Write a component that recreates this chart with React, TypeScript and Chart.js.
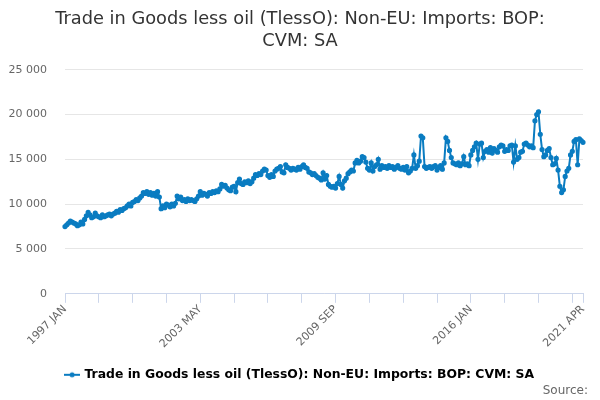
import { useEffect, useRef } from 'react'
import { Chart, registerables } from 'chart.js'

Chart.register(...registerables)

const MONTHS = ['JAN', 'FEB', 'MAR', 'APR', 'MAY', 'JUN', 'JUL', 'AUG', 'SEP', 'OCT', 'NOV', 'DEC']

// monthly values, one row per year (1997 .. 2021 APR)
const v1997 = [7500, 7700, 7900, 8100, 8000, 7900, 7800, 7600, 7700, 8000, 7800, 8300]
const v1998 = [8700, 9100, 8800, 8500, 8600, 9000, 8700, 8600, 8500, 8800, 8600, 8700]
const v1999 = [8800, 8900, 8700, 8900, 9000, 9200, 9100, 9400, 9300, 9500, 9600, 9800]
const v2000 = [10000, 9800, 10200, 10300, 10500, 10400, 10700, 10900, 11300, 11200, 11400, 11100]
const v2001 = [11300, 11000, 11200, 10900, 11400, 10800, 9500, 9800, 9600, 10000, 9900, 9700]
const v2002 = [10000, 9800, 10100, 10900, 10600, 10800, 10400, 10500, 10300, 10600, 10400, 10500]
const v2003 = [10400, 10300, 10600, 10900, 11400, 11000, 11200, 11100, 10900, 11300, 11200, 11400]
const v2004 = [11300, 11500, 11400, 11700, 12200, 12000, 12100, 11800, 11600, 11500, 11900, 12000]
const v2005 = [11400, 12400, 12800, 12300, 12200, 12500, 12400, 12600, 12300, 12500, 12900, 13300]
const v2006 = [13200, 13400, 13300, 13700, 13900, 13800, 13200, 13000, 13300, 13100, 13700, 13900]
const v2007 = [14000, 14200, 13600, 13500, 14400, 14100, 14000, 13800, 14000, 13900, 13800, 14100]
const v2008 = [13900, 14200, 14400, 14100, 14000, 13600, 13500, 13300, 13400, 13200, 13000, 12900]
const v2009 = [12700, 13500, 12800, 13200, 12200, 12000, 11900, 12000, 11800, 12300, 13100, 12200]
const v2010 = [11800, 12600, 12900, 13400, 13600, 13800, 13700, 14600, 14900, 14600, 14800, 15300]
const v2011 = [15200, 14700, 14000, 13800, 14600, 13700, 14200, 14400, 15000, 13900, 14300, 14100]
const v2012 = [14200, 14000, 14300, 14100, 14200, 13900, 14100, 14300, 14000, 13900, 14100, 13800]
const v2013 = [14200, 13500, 13700, 14000, 15500, 14000, 14300, 14800, 17600, 17400, 14200, 14000]
const v2014 = [14100, 14200, 14000, 14200, 14300, 13800, 14100, 14300, 13900, 14600, 17400, 17000]
const v2015 = [16000, 15200, 14600, 14500, 14400, 14600, 14300, 14500, 15300, 14400, 14500, 14300]
const v2016 = [15500, 16000, 16400, 16800, 15000, 16700, 16800, 15200, 15900, 16100, 15800, 16300]
const v2017 = [15700, 16200, 16000, 15800, 16400, 16600, 16500, 15900, 16100, 16000, 16500, 16600]
const v2018 = [14700, 16500, 15000, 15200, 15800, 15900, 16700, 16800, 16600, 16400, 16500, 16300]
const v2019 = [19300, 20000, 20300, 17800, 16100, 15300, 15500, 16000, 16200, 15200, 14400, 14500]
const v2020 = [15100, 13800, 12000, 11300, 11600, 13100, 13700, 14000, 15500, 15900, 17000, 17200]
const v2021 = [14400, 17300, 17100, 16900]

const yearRows = [
  v1997, v1998, v1999, v2000, v2001, v2002, v2003, v2004, v2005, v2006, v2007, v2008,
  v2009, v2010, v2011, v2012, v2013, v2014, v2015, v2016, v2017, v2018, v2019, v2020, v2021
]

const values: number[] = yearRows.flat()
const labels: string[] = values.map((_, i) => `${1997 + Math.floor(i / 12)} ${MONTHS[i % 12]}`)

const yTicks = [0, 5000, 10000, 15000, 20000, 25000]

const SERIES = 'Trade in Goods less oil (TlessO): Non-EU: Imports: BOP: CVM: SA'
const TITLE = ['Trade in Goods less oil (TlessO): Non-EU: Imports: BOP:', 'CVM: SA']
const LINE = '#0a7cc1'
const FONT = "'DejaVu Sans', sans-serif"

// legend symbol: short line with a marker in the middle
function legendSymbol() {
  const c = document.createElement('canvas')
  c.width = 16
  c.height = 8
  const g = c.getContext('2d')
  if (g) {
    g.strokeStyle = LINE
    g.lineWidth = 2
    g.beginPath()
    g.moveTo(0, 4)
    g.lineTo(16, 4)
    g.stroke()
    g.fillStyle = LINE
    g.beginPath()
    g.arc(8, 4, 2.5, 0, Math.PI * 2)
    g.fill()
  }
  return c
}

export default function App() {
  const chartRef = useRef<HTMLCanvasElement>(null)
  const chartInstance = useRef<Chart | null>(null)

  useEffect(() => {
    if (!chartRef.current) return
    if (chartInstance.current) chartInstance.current.destroy()
    const ctx = chartRef.current.getContext('2d')
    if (!ctx) return

    const last = labels.length - 1
    const isMajor = (i: number) => i % 76 === 0 || i === last
    const isMinor = (i: number) => i % 19 === 0 || i === last
    const symbol = legendSymbol()

    chartInstance.current = new Chart(ctx, {
      type: 'line',
      data: {
        labels,
        datasets: [
          {
            label: SERIES,
            data: values,
            borderColor: LINE,
            backgroundColor: LINE,
            borderWidth: 2,
            pointRadius: 1.6,
            pointHoverRadius: 3,
            tension: 0
          }
        ]
      },
      options: {
        animation: false,
        responsive: true,
        maintainAspectRatio: false,
        layout: { padding: { left: 0, right: 0, top: 3, bottom: 9 } },
        scales: {
          x: {
            type: 'category',
            offset: false,
            border: { color: '#ccd6eb' },
            grid: {
              drawOnChartArea: false,
              tickLength: 9,
              tickColor: (c: any) => (isMinor(c.index) ? '#ccd6eb' : 'rgba(0,0,0,0)')
            },
            ticks: {
              autoSkip: false,
              maxRotation: 45,
              minRotation: 45,
              color: '#666666',
              font: { family: FONT, size: 11 },
              padding: 0,
              callback: (_v: any, i: number) => (isMajor(i) ? labels[i] : '')
            },
            afterFit: (s: any) => {
              s.paddingRight = 17
              s.height += 3
            }
          },
          y: {
            min: 0,
            max: 25000,
            afterBuildTicks: (axis: any) => {
              axis.ticks = yTicks.map(v => ({ value: v }))
            },
            afterFit: (s: any) => {
              s.width = 65
            },
            border: { display: false },
            grid: { color: '#e6e6e6', drawTicks: false },
            ticks: {
              color: '#666666',
              padding: 18,
              font: { family: FONT, size: 11 },
              callback: (v: any) => String(v).replace(/\B(?=(\d{3})+(?!\d))/g, ' ')
            }
          }
        },
        plugins: {
          title: {
            display: true,
            text: TITLE,
            color: '#333333',
            font: { family: FONT, size: 17.8, weight: 'normal' },
            padding: { top: 6, bottom: 18 }
          },
          legend: {
            position: 'bottom',
            labels: {
              color: '#333333',
              font: { family: FONT, size: 12.4, weight: 'bold' },
              boxWidth: 16,
              padding: 15,
              usePointStyle: true,
              generateLabels: () => [
                {
                  text: SERIES,
                  strokeStyle: LINE,
                  fillStyle: LINE,
                  lineWidth: 0,
                  pointStyle: symbol,
                  hidden: false,
                  datasetIndex: 0
                }
              ]
            }
          },
          tooltip: { enabled: false }
        }
      }
    })

    return () => {
      if (chartInstance.current) {
        chartInstance.current.destroy()
        chartInstance.current = null
      }
    }
  }, [])

  return (
    <div style={{ position: 'absolute', left: 0, top: 0, width: 600, height: 400, background: '#fff' }}>
      <canvas ref={chartRef}></canvas>
      <div
        style={{
          position: 'absolute',
          right: 12,
          top: 383,
          fontFamily: FONT,
          fontSize: 12,
          color: '#666666'
        }}
      >
        Source:
      </div>
    </div>
  )
}
